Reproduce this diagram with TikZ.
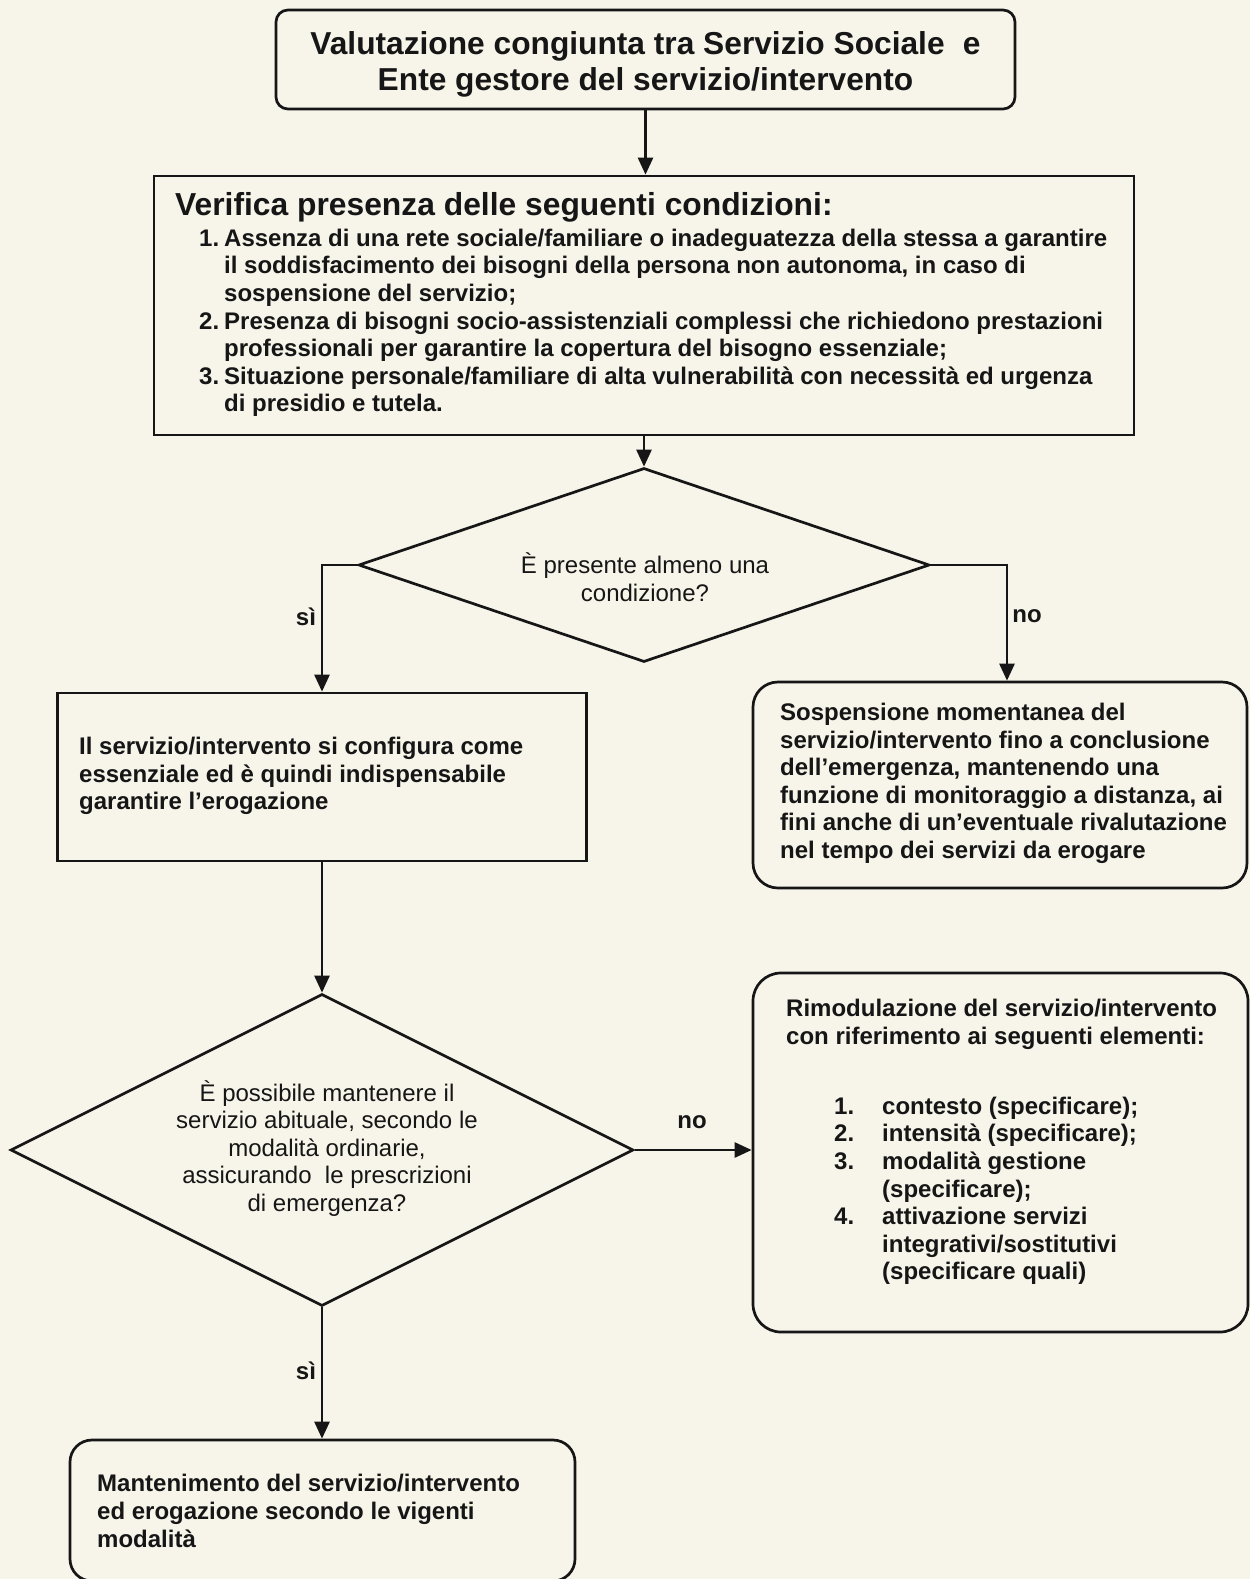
\documentclass[tikz,border=0pt]{standalone}
\usepackage{fontspec}
\setmainfont{Liberation Sans}
\usetikzlibrary{arrows.meta,shapes.geometric,calc}
\definecolor{paper}{RGB}{247,244,233}
\definecolor{ink}{RGB}{22,22,22}
\begin{document}
\begin{tikzpicture}[x=1pt,y=-1pt,
  box/.style={draw=ink, line width=2.7pt, inner sep=0pt, rectangle},
  dia/.style={draw=ink, line width=2.7pt, inner sep=0pt, diamond},
  bt/.style={font=\fontsize{24}{27.6}\selectfont\bfseries, align=left, inner sep=0pt, text=ink},
  rt/.style={font=\fontsize{24}{27.6}\selectfont, align=center, inner sep=0pt, text=ink},
  lbl/.style={font=\fontsize{24}{27.6}\selectfont\bfseries, inner sep=0pt, text=ink},
  arr/.style={draw=ink, line width=2.6pt, -{Triangle[length=17pt,width=15pt]}}
]
\fill[paper] (0,0) rectangle (1250,1579);
\useasboundingbox (0,0) rectangle (1250,1579);
\clip (0,0) rectangle (1250,1579);

% boxes
\node[box, rounded corners=12pt, minimum width=739pt, minimum height=99pt] (t) at (645.5,59.5) {};
\node[box, minimum width=980pt, minimum height=259pt] (b2) at (644,305.5) {};
\node[dia, minimum width=571pt, minimum height=194pt] (d1) at (644,565) {};
\node[box, minimum width=529pt, minimum height=168pt] (b3) at (322,777) {};
\node[box, rounded corners=25pt, minimum width=494pt, minimum height=206pt] (b4) at (1000,785) {};
\node[dia, minimum width=623pt, minimum height=312pt] (d2) at (322,1150) {};
\node[box, rounded corners=28pt, minimum width=495pt, minimum height=359pt] (b5) at (1000.5,1152.5) {};
\node[box, rounded corners=22pt, minimum width=505pt, minimum height=141pt] (b6) at (322.5,1510.5) {};

% texts
\node[font=\fontsize{31.7}{36}\selectfont\bfseries, align=center, inner sep=0pt, text=ink] (tt) at (645.5,65)
  {\strut Valutazione congiunta tra Servizio Sociale\hspace{0.3em} e\\ Ente gestore del servizio/intervento\strut};
\node[font=\fontsize{31.8}{36}\selectfont\bfseries, inner sep=0pt, text=ink, anchor=west] (b2h) at (175,208)
  {\strut Verifica presenza delle seguenti condizioni:};
\node[bt, anchor=west] (b2t) at (199,323.5)
  {\strut\makebox[25pt][l]{1.}Assenza di una rete sociale/familiare o inadeguatezza della stessa a garantire\\
   \hspace*{25pt}il soddisfacimento dei bisogni della persona non autonoma, in caso di\\
   \hspace*{25pt}sospensione del servizio;\\
   \makebox[25pt][l]{2.}Presenza di bisogni socio-assistenziali complessi che richiedono prestazioni\\
   \hspace*{25pt}professionali per garantire la copertura del bisogno essenziale;\\
   \makebox[25pt][l]{3.}Situazione personale/familiare di alta vulnerabilità con necessità ed urgenza\\
   \hspace*{25pt}di presidio e tutela.\strut};
\node[rt] (d1t) at (645,581)
  {\strut È presente almeno una\\ condizione?\strut};
\node[bt, anchor=west] (b3t) at (79,776.5)
  {\strut Il servizio/intervento si configura come\\
   essenziale ed è quindi indispensabile\\
   garantire l’erogazione\strut};
\node[bt, anchor=west] (b4t) at (780,784)
  {\strut Sospensione momentanea del\\
   servizio/intervento fino a conclusione\\
   dell’emergenza, mantenendo una\\
   funzione di monitoraggio a distanza, ai\\
   fini anche di un’eventuale rivalutazione\\
   nel tempo dei servizi da erogare\strut};
\node[rt] (d2t) at (327,1150)
  {\strut È possibile mantenere il\\
   servizio abituale, secondo le\\
   modalità ordinarie,\\
   assicurando\ \ le prescrizioni\\
   di emergenza?\strut};
\node[bt, anchor=west] (b5h) at (786,1025)
  {\strut Rimodulazione del servizio/intervento\\
   con riferimento ai seguenti elementi:\strut};
\node[bt, anchor=west] (b5t) at (834,1191.5)
  {\strut\makebox[48pt][l]{1.}contesto (specificare);\\
   \makebox[48pt][l]{2.}intensità (specificare);\\
   \makebox[48pt][l]{3.}modalità gestione\\
   \hspace*{48pt}(specificare);\\
   \makebox[48pt][l]{4.}attivazione servizi\\
   \hspace*{48pt}integrativi/sostitutivi\\
   \hspace*{48pt}(specificare quali)\strut};
\node[bt, anchor=west] (b6t) at (97,1514)
  {\strut Mantenimento del servizio/intervento\\
   ed erogazione secondo le vigenti\\
   modalità\strut};

% connectors
\draw[arr] (t.south) -- (t.south |- b2.north);
\draw[arr] (b2.south) -- (d1.north);
\draw[arr] (d1.west) -| (b3.north);
\draw[arr] (d1.east) -| ([xshift=7pt]b4.north);
\draw[arr] (b3.south) -- (b3.south |- d2.north);
\draw[arr] (d2.east) -- (d2.east -| b5.west);
\draw[arr] (d2.south) -- (d2.south |- b6.north);

% labels
\node[lbl] (l1) at (306,617) {sì};
\node[lbl] (l2) at (1027,616) {no};
\node[lbl] (l3) at (692,1122) {no};
\node[lbl] (l4) at (306,1371) {sì};
\end{tikzpicture}
\end{document}
